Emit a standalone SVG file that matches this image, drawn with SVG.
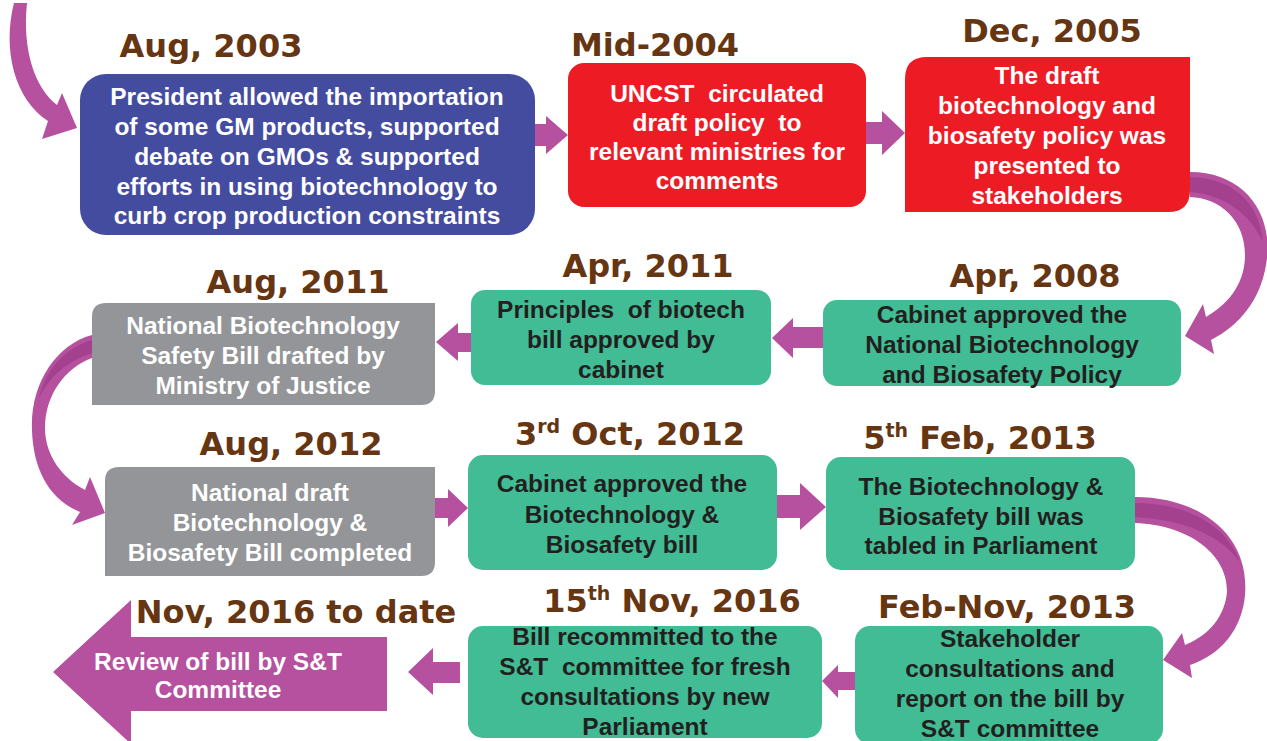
<svg xmlns="http://www.w3.org/2000/svg" width="1267" height="741" viewBox="0 0 1267 741" xml:space="preserve">
<style>
.date{font-family:"DejaVu Sans",sans-serif;font-weight:bold;font-size:32px;fill:#663511;text-anchor:middle}
.sup{font-size:19px}
.t{font-family:"Liberation Sans",Arial,sans-serif;font-weight:bold;font-size:24.5px;text-anchor:middle;white-space:pre}
.w{fill:#ffffff}
.k{fill:#231f20}
.arr{fill:#b5519e}
.band{fill:#a3418f}
.blue{fill:#444ca0}
.red{fill:#ed1c24}
.green{fill:#41bc94}
.gray{fill:#939598}
</style>
<rect width="1267" height="741" fill="#ffffff"/>
<g id="connectors">
  <path class="arr" d="M 14 3 C 2 50 15 100 48 121 L 42 139 L 77 128 L 62 93 L 57 105 C 35 88 22 50 27 3 Z"/>
  <path class="arr" d="M 535 124 H 546 V 116 L 568 135 L 546 154 V 146 H 535 Z"/>
  <path class="arr" d="M 866 122 H 882 V 111 L 905 133 L 882 155 V 144 H 866 Z"/>
  <path class="arr" d="M 1190 172 C 1245 172 1275 215 1266 265 C 1260 300 1240 325 1211 340 L 1214 354 L 1185 336 L 1203 304 L 1206 317 C 1232 302 1245 280 1245 255 C 1245 220 1220 198 1190 197 Z"/>
  <path class="band" d="M 1190 177 C 1235 178 1260 205 1263 242 C 1250 214 1225 195 1190 192 Z"/>
  <path class="arr" d="M 823 327 H 793 V 318 L 772 338 L 793 358 V 348 H 823 Z"/>
  <path class="arr" d="M 471 333 H 458 V 323 L 436 342 L 458 361 V 352 H 471 Z"/>
  <path class="arr" d="M 92 335 C 55 345 30 385 32 430 C 33 470 50 500 80 512 L 72 525 L 105 513 L 90 477 L 85 490 C 62 478 45 455 45 428 C 45 395 65 368 92 358 Z"/>
  <path class="band" d="M 92 340 C 65 348 45 370 39 398 C 50 375 70 360 92 353 Z"/>
  <path class="arr" d="M 435 498 H 448 V 489 L 468 508 L 448 527 V 518 H 435 Z"/>
  <path class="arr" d="M 777 495 H 800 V 483 L 826 507 L 800 530 V 518 H 777 Z"/>
  <path class="arr" d="M 1135 497 C 1200 497 1250 535 1245 595 C 1242 630 1220 655 1190 665 L 1192 678 L 1163 660 L 1182 633 L 1185 645 C 1210 635 1225 615 1227 592 C 1228 555 1190 525 1135 523 Z"/>
  <path class="band" d="M 1135 503 C 1190 503 1228 528 1240 562 C 1220 535 1185 520 1135 517 Z"/>
  <path class="arr" d="M 855 672 H 838 V 665 L 822 681 L 838 698 V 690 H 855 Z"/>
  <path class="arr" d="M 460 662 H 433 V 648 L 408 672 L 433 695 V 683 H 460 Z"/>
</g>
<g id="n-aug2003">
  <rect class="blue" x="80" y="74" width="455" height="161" rx="26"/>
  <text class="date" x="211" y="57">Aug, 2003</text>
  <text class="t w" x="307" y="105">President allowed the importation</text>
  <text class="t w" x="307" y="135">of some GM products, supported</text>
  <text class="t w" x="307" y="165">debate on GMOs &amp; supported</text>
  <text class="t w" x="307" y="195">efforts in using biotechnology to</text>
  <text class="t w" x="307" y="224">curb crop production constraints</text>
</g>
<g id="n-mid2004">
  <rect class="red" x="568" y="63" width="298" height="144" rx="16"/>
  <text class="date" x="655" y="56">Mid-2004</text>
  <text class="t w" x="717" y="102">UNCST  circulated</text>
  <text class="t w" x="717" y="131">draft policy  to</text>
  <text class="t w" x="717" y="160">relevant ministries for</text>
  <text class="t w" x="717" y="189">comments</text>
</g>
<g id="n-dec2005">
  <path class="red" d="M 927 57 H 1190 V 190 Q 1190 212 1168 212 H 905 V 79 Q 905 57 927 57 Z"/>
  <text class="date" x="1052" y="42">Dec, 2005</text>
  <text class="t w" x="1047" y="84">The draft</text>
  <text class="t w" x="1047" y="114">biotechnology and</text>
  <text class="t w" x="1047" y="144">biosafety policy was</text>
  <text class="t w" x="1047" y="174">presented to</text>
  <text class="t w" x="1047" y="204">stakeholders</text>
</g>
<g id="n-apr2008">
  <rect class="green" x="823" y="300" width="358" height="86" rx="14"/>
  <text class="date" x="1035" y="287">Apr, 2008</text>
  <text class="t k" x="1002" y="323">Cabinet approved the</text>
  <text class="t k" x="1002" y="353">National Biotechnology</text>
  <text class="t k" x="1002" y="383">and Biosafety Policy</text>
</g>
<g id="n-apr2011">
  <rect class="green" x="471" y="290" width="300" height="95" rx="14"/>
  <text class="date" x="648" y="277">Apr, 2011</text>
  <text class="t k" x="621" y="318">Principles  of biotech</text>
  <text class="t k" x="621" y="348">bill approved by</text>
  <text class="t k" x="621" y="378">cabinet</text>
</g>
<g id="n-aug2011">
  <path class="gray" d="M 106 303 H 435 V 391 Q 435 405 421 405 H 92 V 317 Q 92 303 106 303 Z"/>
  <text class="date" x="298" y="293">Aug, 2011</text>
  <text class="t w" x="263" y="334">National Biotechnology</text>
  <text class="t w" x="263" y="364">Safety Bill drafted by</text>
  <text class="t w" x="263" y="394">Ministry of Justice</text>
</g>
<g id="n-aug2012">
  <path class="gray" d="M 119 467 H 435 V 562 Q 435 576 421 576 H 105 V 481 Q 105 467 119 467 Z"/>
  <text class="date" x="291" y="455">Aug, 2012</text>
  <text class="t w" x="270" y="501">National draft</text>
  <text class="t w" x="270" y="531">Biotechnology &amp;</text>
  <text class="t w" x="270" y="561">Biosafety Bill completed</text>
</g>
<g id="n-oct2012">
  <rect class="green" x="468" y="455" width="309" height="115" rx="15"/>
  <text class="date" x="630" y="445">3<tspan class="sup" dy="-12">rd</tspan><tspan dy="12"> Oct, 2012</tspan></text>
  <text class="t k" x="622" y="492">Cabinet approved the</text>
  <text class="t k" x="622" y="523">Biotechnology &amp;</text>
  <text class="t k" x="622" y="553">Biosafety bill</text>
</g>
<g id="n-feb2013">
  <rect class="green" x="826" y="457" width="309" height="113" rx="15"/>
  <text class="date" x="980" y="449">5<tspan class="sup" dy="-12">th</tspan><tspan dy="12"> Feb, 2013</tspan></text>
  <text class="t k" x="981" y="495">The Biotechnology &amp;</text>
  <text class="t k" x="981" y="525">Biosafety bill was</text>
  <text class="t k" x="981" y="554">tabled in Parliament</text>
</g>
<g id="n-febnov2013">
  <rect class="green" x="855" y="626" width="308" height="118" rx="15"/>
  <text class="date" x="1007" y="618">Feb-Nov, 2013</text>
  <text class="t k" x="1010" y="647">Stakeholder</text>
  <text class="t k" x="1010" y="677">consultations and</text>
  <text class="t k" x="1010" y="707">report on the bill by</text>
  <text class="t k" x="1010" y="737">S&amp;T committee</text>
</g>
<g id="n-nov2016">
  <rect class="green" x="468" y="626" width="354" height="112" rx="15"/>
  <text class="date" x="672" y="612">15<tspan class="sup" dy="-12">th</tspan><tspan dy="12"> Nov, 2016</tspan></text>
  <text class="t k" x="645" y="645">Bill recommitted to the</text>
  <text class="t k" x="645" y="675">S&amp;T  committee for fresh</text>
  <text class="t k" x="645" y="705">consultations by new</text>
  <text class="t k" x="645" y="735">Parliament</text>
</g>
<g id="n-review">
  <path class="arr" d="M 53 672 L 131 600 V 637 H 387 V 711 H 131 V 744 Z"/>
  <text class="date" x="296" y="623">Nov, 2016 to date</text>
  <text class="t w" x="218" y="670">Review of bill by S&amp;T</text>
  <text class="t w" x="218" y="698">Committee</text>
</g>
</svg>
